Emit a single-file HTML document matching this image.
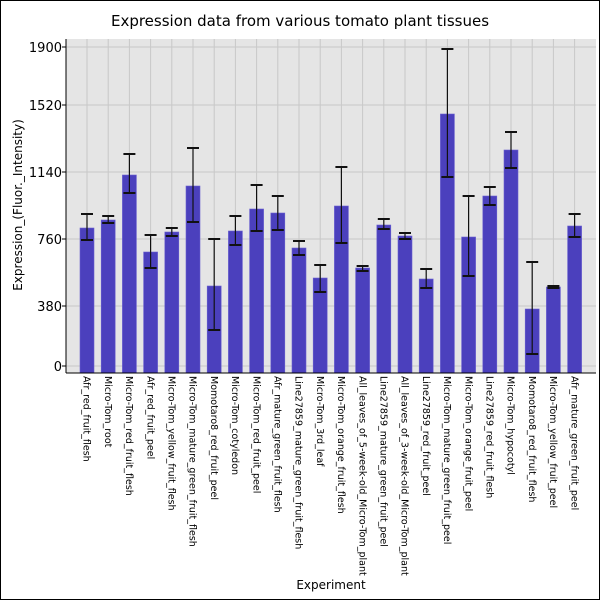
<!DOCTYPE html>
<html><head><meta charset="utf-8"><style>body{margin:0;background:#fff}svg{display:block}text{font-family:"DejaVu Sans","Liberation Sans",sans-serif}</style></head>
<body>
<svg width="600" height="600" viewBox="0 0 600 600" xmlns="http://www.w3.org/2000/svg">
<rect x="0.5" y="0.5" width="599" height="599" fill="#fff" stroke="#000"/>
<text x="300" y="26" font-size="15" text-anchor="middle">Expression data from various tomato plant tissues</text>
<rect x="66" y="39" width="530" height="334" fill="#e5e5e5"/>
<g stroke="#c8c8c8" stroke-width="1" id="grid"></g>
<g id="bars"></g>
<line x1="66" y1="39" x2="66" y2="373" stroke="#000"/>
<line x1="66" y1="373" x2="596" y2="373" stroke="#000"/>
<g id="yt" font-size="13" text-anchor="end"></g>
<g id="xl" font-size="9.5"></g>
<text x="331" y="589" font-size="12" text-anchor="middle">Experiment</text>
<text transform="translate(22,205) rotate(-90)" font-size="12" text-anchor="middle">Expression_(Fluor._Intensity)</text>
</svg>
<script>
const ns="http://www.w3.org/2000/svg";
function el(p,t,a,txt){const e=document.createElementNS(ns,t);for(const k in a)e.setAttribute(k,a[k]);if(txt)e.textContent=txt;document.getElementById(p).appendChild(e);}
const names=["Afr_red_fruit_flesh","Micro-Tom_root","Micro-Tom_red_fruit_flesh","Afr_red_fruit_peel","Micro-Tom_yellow_fruit_flesh","Micro-Tom_mature_green_fruit_flesh","Momotaro8_red_fruit_peel","Micro-Tom_cotyledon","Micro-Tom_red_fruit_peel","Afr_mature_green_fruit_flesh","Line27859_mature_green_fruit_flesh","Micro-Tom_3rd_leaf","Micro-Tom_orange_fruit_flesh","All_leaves_of_5-week-old_Micro-Tom_plant","Line27859_mature_green_fruit_peel","All_leaves_of_3-week-old_Micro-Tom_plant","Line27859_red_fruit_peel","Micro-Tom_mature_green_fruit_peel","Micro-Tom_orange_fruit_peel","Line27859_red_fruit_flesh","Micro-Tom_hypocotyl","Momotaro8_red_fruit_flesh","Micro-Tom_yellow_fruit_peel","Afr_mature_green_fruit_peel"];
const d=[[228,214,240],[220,216,223],[175,154,193],[252,235,268],[232,228,236],[186,148,222],[286,239,330],[231,216,245],[209,185,231],[213,196,230],[248,241,255],[278,265,292],[206,167,243],[268,266,271],[225,219,229],[236,233,239],[279,269,288],[114,49,177],[237,196,276],[196,187,205],[150,132,168],[309,262,354],[287,286,288],[226,214,237]];
const ys=[[0,366],[380,306],[760,239],[1140,172],[1520,105],[1900,47]];
ys.forEach(([v,y])=>{el("grid","line",{x1:66,x2:596,y1:y,y2:y});el("yt","text",{x:62,y:y+5},String(v));el("yt","line",{x1:62,x2:66,y1:y,y2:y,stroke:"#000"});});
d.forEach((b,i)=>{const c=87+i*21.2;el("grid","line",{x1:c,x2:c,y1:39,y2:373});
el("bars","rect",{x:c-7,y:b[0],width:14,height:373-b[0],fill:"#4b40bd",stroke:"#6a60d0","stroke-width":0.6});
el("bars","line",{x1:c,x2:c,y1:b[1],y2:b[2],stroke:"#111","stroke-width":1.2});
el("bars","line",{x1:c-6,x2:c+6,y1:b[1],y2:b[1],stroke:"#111","stroke-width":2});
el("bars","line",{x1:c-6,x2:c+6,y1:b[2],y2:b[2],stroke:"#111","stroke-width":2});
el("xl","text",{transform:`translate(${c-3.3},376) rotate(90)`},names[i]);});
</script>
</body></html>
